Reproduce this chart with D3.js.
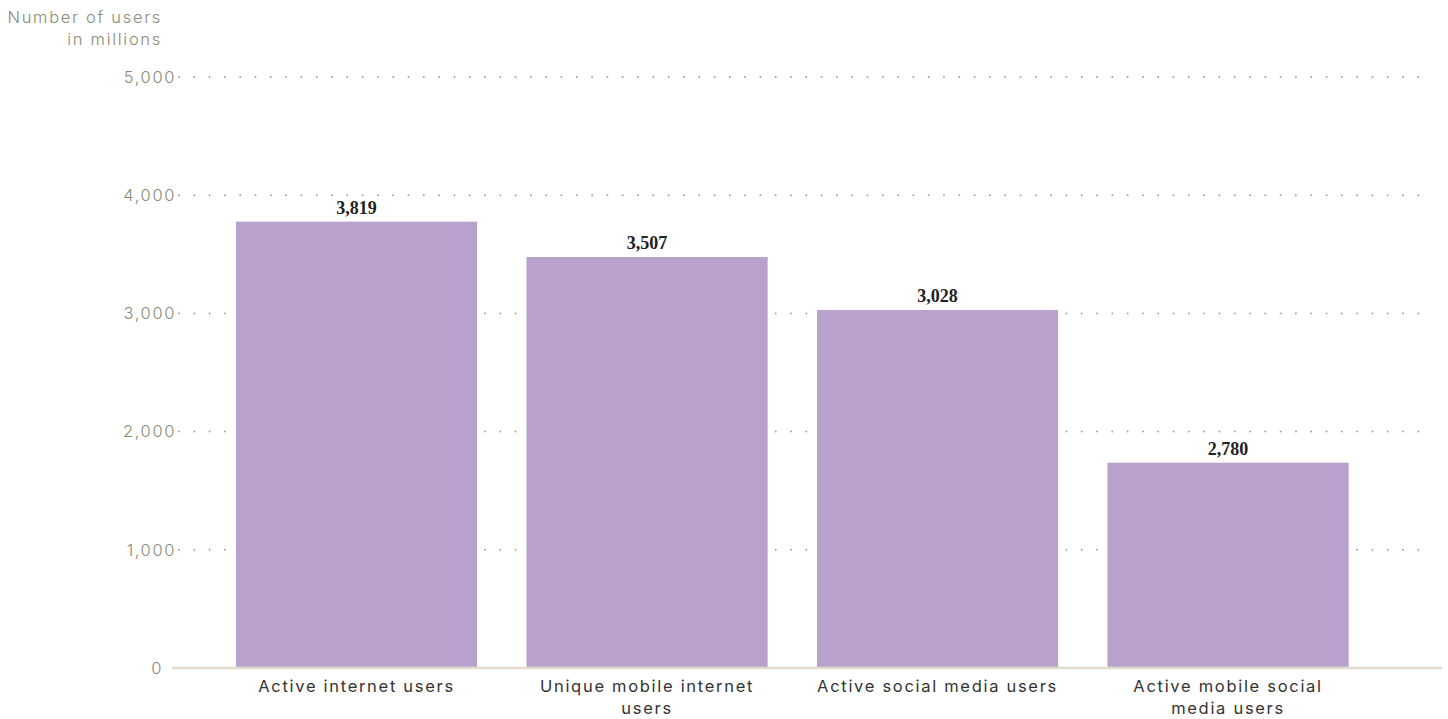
<!DOCTYPE html>
<html>
<head>
<meta charset="utf-8">
<script src="https://cdn.jsdelivr.net/npm/d3@7"></script>
<style>
  body { margin: 0; background: #fff; }
  svg { display: block; }
</style>
</head>
<body>
<div id="vis"></div>
<script>
var categories = ["Active internet users", "Unique mobile internet users", "Active social media users", "Active mobile social media users"];
var barValues = [3776, 3477, 3029, 1737];
var valueLabels = ["3,819", "3,507", "3,028", "2,780"];
var yTicks = [0, 1000, 2000, 3000, 4000, 5000];

var width = 1448, height = 719;
var svg = d3.select("#vis").append("svg")
    .attr("width", width)
    .attr("height", height);

var x = d3.scaleBand()
    .domain(categories)
    .range([211.3, 1373.3])
    .paddingInner(0.17)
    .paddingOuter(0.085);

var y = d3.scaleLinear()
    .domain([0, 5000])
    .range([668, 77]);

var sans = "Inter, Roboto, sans-serif";
var grey = "#8a8a78";

// dotted grid
svg.selectAll(".grid")
  .data(yTicks.filter(function(d) { return d > 0; }))
  .enter().append("line")
    .attr("class", "grid")
    .attr("x1", 179).attr("x2", 1426)
    .attr("y1", function(d) { return y(d); })
    .attr("y2", function(d) { return y(d); })
    .attr("stroke", "#a3a398")
    .attr("stroke-width", 2)
    .attr("stroke-linecap", "round")
    .attr("stroke-dasharray", "0 15.3");

// tick labels
svg.selectAll(".tick")
  .data(yTicks)
  .enter().append("text")
    .attr("class", "tick")
    .attr("x", function(d) { return d === 0 ? 163 : 176; })
    .attr("y", function(d) { return y(d); })
    .attr("dy", "0.35em")
    .attr("text-anchor", "end")
    .attr("font-family", sans)
    .attr("font-size", 16.5)
    .attr("font-weight", 300)
    .attr("letter-spacing", 1.6)
    .attr("fill", grey)
    .text(function(d) { return d3.format(",")(d); });

// axis title
var title = svg.append("text")
    .attr("text-anchor", "end")
    .attr("font-family", sans)
    .attr("font-size", 16.5)
    .attr("font-weight", 300)
    .attr("letter-spacing", 1.7)
    .attr("fill", grey);
title.append("tspan").attr("x", 162).attr("y", 23).text("Number of users");
title.append("tspan").attr("x", 162).attr("y", 45).text("in millions");

// bars
svg.selectAll(".bar")
  .data(barValues)
  .enter().append("rect")
    .attr("class", "bar")
    .attr("x", function(d, i) { return x(categories[i]); })
    .attr("width", x.bandwidth())
    .attr("y", function(d) { return y(d); })
    .attr("height", function(d) { return y(0) - y(d); })
    .attr("fill", "#b8a1cc");

// baseline
svg.append("line")
    .attr("x1", 172).attr("x2", 1442)
    .attr("y1", y(0)).attr("y2", y(0))
    .attr("stroke", "#e0ddd0")
    .attr("stroke-width", 2.5);

// value labels
svg.selectAll(".value")
  .data(barValues)
  .enter().append("text")
    .attr("class", "value")
    .attr("x", function(d, i) { return x(categories[i]) + x.bandwidth() / 2; })
    .attr("y", function(d) { return y(d) - 8; })
    .attr("text-anchor", "middle")
    .attr("font-family", "'Liberation Serif', serif")
    .attr("font-weight", "bold")
    .attr("font-size", 18)
    .attr("fill", "#222")
    .text(function(d, i) { return valueLabels[i]; });

// category labels, wrapped to the band width
svg.selectAll(".cat")
  .data(categories)
  .enter().append("text")
    .attr("class", "cat")
    .attr("text-anchor", "middle")
    .attr("font-family", sans)
    .attr("font-size", 16.5)
    .attr("letter-spacing", 1.7)
    .attr("fill", "#333")
    .each(function(d) {
      var t = d3.select(this);
      var cx = x(d) + x.bandwidth() / 2;
      var words = d.split(" "), line = [], lineNo = 0;
      var tspan = t.append("tspan").attr("x", cx).attr("y", 692);
      words.forEach(function(w) {
        line.push(w);
        tspan.text(line.join(" "));
        if (tspan.node().getComputedTextLength() > x.bandwidth() && line.length > 1) {
          line.pop();
          tspan.text(line.join(" "));
          line = [w];
          lineNo++;
          tspan = t.append("tspan").attr("x", cx).attr("y", 692 + lineNo * 22).text(w);
        }
      });
    });
</script>
</body>
</html>
